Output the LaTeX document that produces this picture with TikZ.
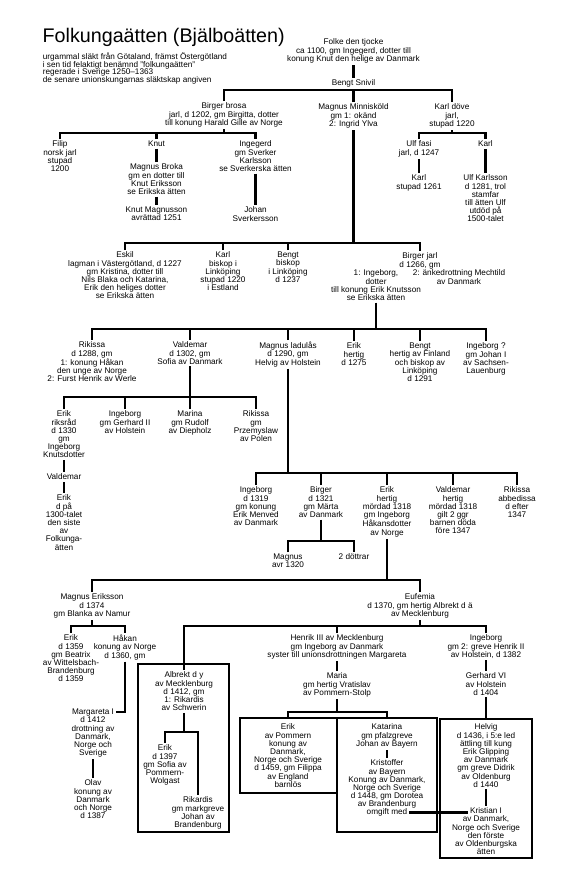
\documentclass[tikz,border=0pt]{standalone}
\usepackage{fontspec}
\setmainfont{Liberation Sans}

\begin{document}
\begin{tikzpicture}[x=1pt, y=-1pt,
				person/.style={anchor=north, align=center, inner sep=0pt, outer sep=2pt, font=\fontsize{8.2}{8.2}\selectfont},
				famline/.style={line width=2.8pt},
				fambox/.style={draw, line width=1.2pt}]
				
				\useasboundingbox (0,0) rectangle (573,891);
				
				% rubrik
				\node[anchor=base west, inner sep=0pt, font=\fontsize{19.7}{20}\selectfont] (title) at (42.5,43) {Folkungaätten (Bjälboätten)};
				\node[anchor=north west, align=left, inner sep=0pt, font=\fontsize{8.2}{7.7}\selectfont] (intro) at (42.7,52.5) {urgammal släkt från Götaland, främst Östergötland\\i sen tid felaktigt benämnd ”folkungaätten”\\regerade i Sverige 1250–1363\\de senare unionskungarnas släktskap angiven};
				
				% ramar
				\node[fambox, minimum width=91pt, minimum height=168pt] (boxA) at (183.5,748) {};
				\node[fambox, minimum width=97pt, minimum height=75pt] (boxE) at (288.5,755.5) {};
				\node[fambox, minimum width=100pt, minimum height=114pt] (boxK) at (387,775) {};
				\node[fambox, minimum width=92pt, minimum height=139pt] (boxH) at (486,788.5) {};
				
				% nivåer för tvärstrecken
				\coordinate (bar0) at (0,90);
				\coordinate (bar1) at (0,133);
				\coordinate (bar2) at (0,133);
				\coordinate (bar3) at (0,243);
				\coordinate (bar4) at (0,329);
				\coordinate (bar5) at (0,397);
				\coordinate (bar6) at (0,473);
				\coordinate (bar7) at (0,541);
				\coordinate (bar8) at (0,580);
				\coordinate (bar9) at (0,626);
				\coordinate (bar10) at (0,626);
				\coordinate (bar11) at (0,732);
				\coordinate (bar12) at (0,712);
				
				\node[person] (folke) at (353.5,37) {Folke den tjocke\\ca 1100, gm Ingegerd, dotter till\\konung Knut den helige av Danmark};
				\node[person] (bengt) at (353.5,78) {Bengt Snivil};
				
				\node[person] (brosa) at (224,101) {Birger brosa\\jarl, d 1202, gm Birgitta, dotter\\till konung Harald Gille av Norge};
				\node[person] (minnis) at (353.5,102) {Magnus Minnisköld\\gm 1: okänd\\2: Ingrid Ylva};
				\node[person] (karldove) at (452,102) {Karl döve\\jarl,\\stupad 1220};
				
				\node[person] (filip) at (60,139) {Filip\\norsk jarl\\stupad\\1200};
				\node[person] (knut) at (156.5,139) {Knut};
				\node[person] (broka) at (156.5,162) {Magnus Broka\\gm en dotter till\\Knut Eriksson\\se Erikska ätten};
				\node[person] (knutm) at (156.5,205) {Knut Magnusson\\avrättad 1251};
				\node[person] (ingegerd) at (255.5,139) {Ingegerd\\gm Sverker\\Karlsson\\se Sverkerska ätten};
				\node[person] (johan) at (255.5,205) {Johan\\Sverkersson};
				
				\node[person] (ulf) at (419,139) {Ulf fasi\\jarl, d 1247};
				\node[person] (karl2) at (485.5,139) {Karl};
				\node[person] (karl3) at (419,173) {Karl\\stupad 1261};
				\node[person] (ulfk) at (485.5,173) {Ulf Karlsson\\d 1281, trol\\stamfar\\till ätten Ulf\\utdöd på\\1500-talet};
				
				\node[person] (eskil) at (125,250) {Eskil\\lagman i Västergötland, d 1227\\gm Kristina, dotter till\\Nils Blaka och Katarina,\\Erik den heliges dotter\\se Erikska ätten};
				\node[person] (karlb) at (223,250) {Karl\\biskop i\\Linköping\\stupad 1220\\i Estland};
				\node[person] (bengtb) at (288,250) {Bengt\\biskop\\i Linköping\\d 1237};
				\node[person] (birgerj) at (420,251) {Birger jarl\\d 1266, gm};
				\node[person] (birgerj1) at (376,268) {1: Ingeborg,\\dotter\\till konung Erik Knutsson\\se Erikska ätten};
				\node[person] (birgerj2) at (459,268) {2: änkedrottning Mechtild\\av Danmark};
				
				\node[person] (rikissa) at (92,340) {Rikissa\\d 1288, gm\\1: konung Håkan\\den unge av Norge\\2: Furst Henrik av Werle};
				\node[person] (valdemar) at (190,340) {Valdemar\\d 1302, gm\\Sofia av Danmark};
				\node[person] (ladulas) at (288,340) {Magnus ladulås\\d 1290, gm\\Helvig av Holstein};
				\node[person] (erikh) at (354,341) {Erik\\hertig\\d 1275};
				\node[person] (bength) at (420,341) {Bengt\\hertig av Finland\\och biskop av\\Linköping\\d 1291};
				\node[person] (ingeb) at (486,341) {Ingeborg ?\\gm Johan I\\av Sachsen-\\Lauenburg};
				
				\node[person] (erikr) at (64,409) {Erik\\riksråd\\d 1330\\gm\\Ingeborg\\Knutsdotter};
				\node[person] (ingebg) at (125,409) {Ingeborg\\gm Gerhard II\\av Holstein};
				\node[person] (marina) at (190,409) {Marina\\gm Rudolf\\av Diepholz};
				\node[person] (rikissap) at (256,409) {Rikissa\\gm\\Przemyslaw\\av Polen};
				\node[person] (valdemar2) at (64,472) {Valdemar};
				\node[person] (eriksiste) at (64,493) {Erik\\d på\\1300-talet\\den siste\\av\\Folkunga-\\ätten};
				
				\node[person] (ingebm) at (256,485) {Ingeborg\\d 1319\\gm konung\\Erik Menved\\av Danmark};
				\node[person] (birger) at (321,485) {Birger\\d 1321\\gm Märta\\av Danmark};
				\node[person] (erikm) at (387,485) {Erik\\hertig\\mördad 1318\\gm Ingeborg\\Håkansdotter\\av Norge};
				\node[person] (valdm) at (453,485) {Valdemar\\hertig\\mördad 1318\\gilt 2 ggr\\barnen döda\\före 1347};
				\node[person] (rikissaa) at (517,485) {Rikissa\\abbedissa\\d efter\\1347};
				\node[person] (magnusavr) at (288,552) {Magnus\\avr 1320};
				\node[person] (dottrar) at (354,552) {2 döttrar};
				
				\node[person] (magnuse) at (92,592) {Magnus Eriksson\\d 1374\\gm Blanka av Namur};
				\node[person] (eufemia) at (420,592) {Eufemia\\d 1370, gm hertig Albrekt d ä\\av Mecklenburg};
				
				\node[person] (erik59) at (71,633) {Erik\\d 1359\\gm Beatrix\\av Wittelsbach-\\Brandenburg\\d 1359};
				\node[person] (hakan) at (125,633) {Håkan\\konung av Norge\\d 1360, gm};
				\node[person] (margareta) at (93,707) {Margareta I\\d 1412\\drottning av\\Danmark,\\Norge och\\Sverige};
				\node[person] (olav) at (93,778) {Olav\\konung av\\Danmark\\och Norge\\d 1387};
				
				\node[person] (albrekt) at (184,670) {Albrekt d y\\av Mecklenburg\\d 1412, gm\\1: Rikardis\\av Schwerin};
				\node[person] (erik97) at (165,743) {Erik\\d 1397\\gm Sofia av\\Pommern-\\Wolgast};
				\node[person] (rikardis) at (198,795) {Rikardis\\gm markgreve\\Johan av\\Brandenburg};
				
				\node[person] (henrik) at (337,633) {Henrik III av Mecklenburg\\gm Ingeborg av Danmark\\syster till unionsdrottningen Margareta};
				\node[person] (maria) at (337,671) {Maria\\gm hertig Vratislav\\av Pommern-Stolp};
				\node[person] (erikp) at (288,722) {Erik\\av Pommern\\konung av\\Danmark,\\Norge och Sverige\\d 1459, gm Filippa\\av England\\barnlös};
				\node[person] (katarina) at (387,722) {Katarina\\gm pfalzgreve\\Johan av Bayern};
				\node[person] (kristoffer) at (387,758) {Kristoffer\\av Bayern\\Konung av Danmark,\\Norge och Sverige\\d 1448, gm Dorotea\\av Brandenburg};
				\node[person] (omgift) at (387,807) {omgift med};
				
				\node[person] (ingebh) at (486,633) {Ingeborg\\gm 2: greve Henrik II\\av Holstein, d 1382};
				\node[person] (gerhard) at (486,671) {Gerhard VI\\av Holstein\\d 1404};
				\node[person] (helvig) at (486,722) {Helvig\\d 1436, i 5:e led\\ättling till kung\\Erik Glipping\\av Danmark\\gm greve Didrik\\av Oldenburg\\d 1440};
				\node[person] (kristian) at (486,806) {Kristian I};
				\node[person] (kristian2) at (486,814) {av Danmark,\\Norge och Sverige\\den förste\\av Oldenburgska\\ätten};
				
				% släktlinjer
				\draw[famline] (folke.south) -- (bengt.north);
				\draw[famline] (brosa.north) -- (brosa |- bar0) -- (karldove |- bar0) -- (karldove.north);
				\draw[famline] (minnis.north) -- (minnis |- bar0);
				
				\draw[famline] (brosa.south) -- (brosa |- bar1);
				\draw[famline] (filip.north) -- (filip |- bar1) -- (ingegerd |- bar1) -- (ingegerd.north);
				\draw[famline] (knut.north) -- (knut |- bar1);
				\draw[famline] (knut.south) -- (broka.north);
				\draw[famline] (broka.south) -- (knutm.north);
				\draw[famline] (ingegerd.south) -- (johan.north);
				
				\draw[famline] (karldove.south) -- (karldove |- bar2);
				\draw[famline] (ulf.north) -- (ulf |- bar2) -- (karl2 |- bar2) -- (karl2.north);
				\draw[famline] (ulf.south) -- (karl3.north);
				\draw[famline] (karl2.south) -- (ulfk.north);
				
				\draw[famline] (minnis.south) -- (minnis |- bar3);
				\draw[famline] (eskil.north) -- (eskil |- bar3) -- (birgerj |- bar3) -- (birgerj.north);
				\draw[famline] (karlb.north) -- (karlb |- bar3);
				\draw[famline] (bengtb.north) -- (bengtb |- bar3);
				
				\draw[famline] (birgerj1.south) -- (birgerj1 |- bar4);
				\draw[famline] (rikissa.north) -- (rikissa |- bar4) -- (ingeb |- bar4) -- (ingeb.north);
				\foreach \n in {valdemar,ladulas,erikh,bength}
					\draw[famline] (\n.north) -- (\n |- bar4);
				
				\draw[famline] (valdemar.south) -- (valdemar |- bar5);
				\draw[famline] (erikr.north) -- (erikr |- bar5) -- (rikissap |- bar5) -- (rikissap.north);
				\foreach \n in {ingebg,marina}
					\draw[famline] (\n.north) -- (\n |- bar5);
				\draw[famline] (erikr.south) -- (valdemar2.north);
				\draw[famline] (valdemar2.south) -- (eriksiste.north);
				
				\draw[famline] (ladulas.south) -- (ladulas |- bar6);
				\draw[famline] (ingebm.north) -- (ingebm |- bar6) -- (rikissaa |- bar6) -- (rikissaa.north);
				\foreach \n in {birger,erikm,valdm}
					\draw[famline] (\n.north) -- (\n |- bar6);
				
				\draw[famline] (birger.south) -- (birger |- bar7);
				\draw[famline] (magnusavr.north) -- (magnusavr |- bar7) -- (dottrar |- bar7) -- (dottrar.north);
				
				\draw[famline] (erikm.south) -- (erikm |- bar8);
				\draw[famline] (magnuse.north) -- (magnuse |- bar8) -- (eufemia |- bar8) -- (eufemia.north);
				
				\draw[famline] (magnuse.south) -- (magnuse |- bar9);
				\draw[famline] (erik59.north) -- (erik59 |- bar9) -- (hakan |- bar9) -- (hakan.north);
				\draw[famline] (hakan.south) |- ([yshift=-5pt]margareta.north east);
				\draw[famline] (margareta.south) -- (olav.north);
				
				\draw[famline] (eufemia.south) -- (eufemia |- bar10);
				\draw[famline] (albrekt.north) -- (albrekt |- bar10) -- (ingebh |- bar10) -- (ingebh.north);
				\draw[famline] (henrik.north) -- (henrik |- bar10);
				
				\draw[famline] (albrekt.south) -- (albrekt |- bar11);
				\draw[famline] (erik97.north) -- (erik97 |- bar11) -- (rikardis |- bar11) -- (rikardis.north);
				
				\draw[famline] (henrik.south) -- (maria.north);
				\draw[famline] (maria.south) -- (maria |- bar12);
				\draw[famline] (erikp |- boxE.north) -- (erikp |- bar12) -- (katarina |- bar12) -- (katarina |- boxK.north);
				\draw[famline] (katarina.south) -- (kristoffer.north);
				
				\draw[famline] (ingebh.south) -- (gerhard.north);
				\draw[famline] (gerhard.south) -- (gerhard |- boxH.north);
				\draw[famline] (helvig.south) -- (kristian.north);
				\draw[famline] (omgift.east) -- (omgift.east -| kristian.west);
			\end{tikzpicture}
\end{document}
